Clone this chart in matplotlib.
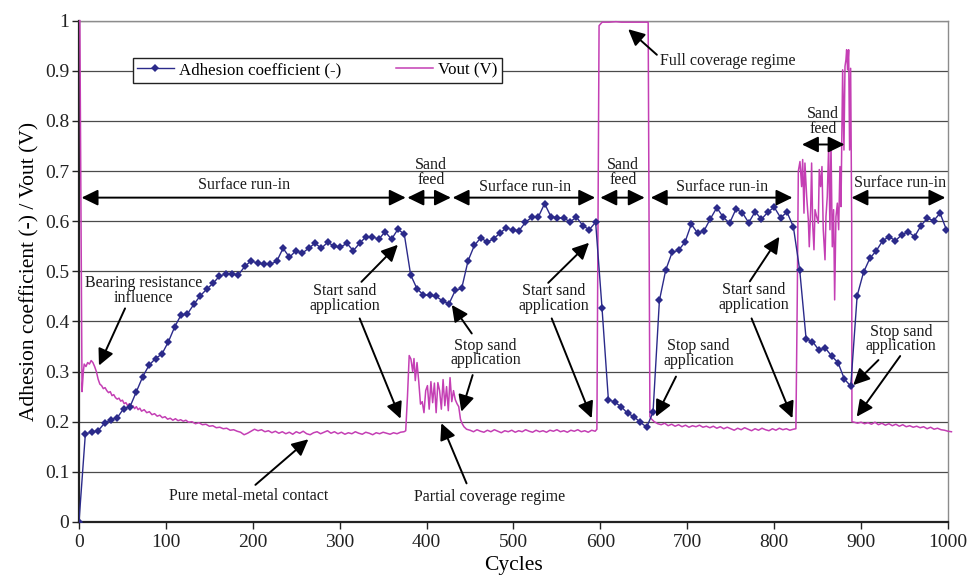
import numpy as np
import matplotlib.pyplot as plt
import matplotlib.ticker

plt.rcParams['font.family'] = ['Liberation Serif', 'DejaVu Serif']
plt.rcParams['axes.unicode_minus'] = False

# adhesion coefficient, one sample every ADH_STEP cycles starting at 0
ADH_STEP = 7.34
adhesion = [
    0.000, 0.176, 0.179, 0.182, 0.197, 0.204, 0.208, 0.226, 0.230, 0.260,
    0.290, 0.313, 0.326, 0.335, 0.359, 0.389, 0.413, 0.415, 0.434, 0.451,
    0.464, 0.476, 0.490, 0.495, 0.495, 0.493, 0.510, 0.521, 0.516, 0.515,
    0.514, 0.520, 0.546, 0.528, 0.541, 0.536, 0.546, 0.556, 0.546, 0.558,
    0.550, 0.548, 0.556, 0.541, 0.556, 0.569, 0.569, 0.564, 0.579, 0.564,
    0.584, 0.574, 0.493, 0.465, 0.453, 0.452, 0.450, 0.441, 0.435, 0.462,
    0.466, 0.521, 0.552, 0.567, 0.558, 0.565, 0.576, 0.587, 0.582, 0.581,
    0.598, 0.608, 0.608, 0.635, 0.609, 0.607, 0.606, 0.599, 0.608, 0.591,
    0.583, 0.598, 0.427, 0.244, 0.239, 0.230, 0.217, 0.210, 0.199, 0.189,
    0.219, 0.442, 0.503, 0.538, 0.542, 0.558, 0.594, 0.576, 0.581, 0.605,
    0.627, 0.608, 0.596, 0.624, 0.617, 0.597, 0.619, 0.604, 0.618, 0.628,
    0.607, 0.618, 0.589, 0.502, 0.365, 0.360, 0.343, 0.347, 0.331, 0.318,
    0.285, 0.271, 0.451, 0.498, 0.526, 0.541, 0.561, 0.569, 0.561, 0.573,
    0.579, 0.569, 0.591, 0.606, 0.601, 0.616, 0.583, 0.591,
]
adh_cycles = np.arange(len(adhesion)) * ADH_STEP

# sensor output voltage
vout_cycles = [
    1, 3.5, 5, 6, 8, 10, 12, 14, 16, 18, 20, 22, 24, 26, 28, 30, 32, 34, 36, 38,
    40, 42, 44, 46, 48, 50, 52, 54, 56, 58, 60, 62, 64, 66, 68, 70, 72, 75, 78, 81,
    84, 87, 90, 93, 96, 99, 102, 105, 108, 111, 114, 117, 120, 123, 126, 130, 134, 138, 142, 146,
    150, 154, 158, 162, 166, 170, 174, 178, 182, 186, 190, 194, 198, 202, 206, 210, 214, 218, 222, 226,
    230, 234, 238, 242, 246, 250, 254, 258, 262, 266, 270, 274, 278, 282, 286, 290, 294, 298, 302, 306,
    310, 314, 318, 322, 326, 330, 334, 338, 342, 346, 350, 354, 358, 362, 366, 370, 374, 376,
    378, 380, 382, 384, 385.5, 387, 389, 391, 393, 395, 397, 399, 401, 403, 405, 407, 409, 411, 413, 415,
    417, 419, 421, 423, 425, 427, 429, 431, 433, 435, 437, 439, 441, 443, 446,
    450, 454, 458, 462, 466, 470, 474, 478, 482, 486, 490, 494, 498, 502, 506, 510, 514, 518, 522, 526,
    530, 534, 538, 542, 546, 550, 554, 558, 562, 566, 570, 574, 578, 582, 586, 590, 594, 596,
    598.5, 602, 610, 618, 624, 632, 640, 648, 655, 657, 659,
    662, 666, 670, 674, 678, 682, 686, 690, 694, 698, 702, 706, 710, 714, 718, 722, 726, 730, 734, 738,
    742, 746, 750, 754, 758, 762, 766, 770, 774, 778, 782, 786, 790, 794, 798, 802, 806, 810, 814, 818,
    822, 825,
    826.6, 827.8, 829.7, 831.6, 832.8, 834.3, 835.4, 837.4, 839.3, 840.4, 842, 843.1, 844.3, 845.8, 847,
    848.9, 850.8, 851.9, 853.5, 855, 856.5, 858.5, 859.6, 861.1, 862.7, 864.2, 865.4, 866.9, 868.4, 869.6,
    871.1, 872.7, 874.2, 875.7, 876.9, 878, 878.8, 880.3, 881.5, 882.6, 883.4, 884.5, 885.7, 886.8, 888,
    889.2, 889.5,
    892, 896, 900, 904, 908, 912, 916, 920, 924, 928, 932, 936, 940, 944, 948, 952, 956, 960, 964, 968,
    972, 976, 980, 984, 988, 992, 996, 1000, 1004,
]
vout = [
    1.000, 0.260, 0.300, 0.315, 0.310, 0.318, 0.315, 0.322, 0.318, 0.310, 0.300, 0.285, 0.275, 0.272, 0.266, 0.268, 0.262, 0.258, 0.260, 0.252,
    0.254, 0.248, 0.245, 0.247, 0.241, 0.243, 0.236, 0.238, 0.232, 0.236, 0.228, 0.232, 0.226, 0.230, 0.224, 0.227, 0.221, 0.224, 0.218, 0.220,
    0.214, 0.216, 0.211, 0.213, 0.208, 0.210, 0.205, 0.207, 0.203, 0.206, 0.202, 0.204, 0.201, 0.203, 0.199, 0.200, 0.196, 0.198, 0.194, 0.195,
    0.191, 0.192, 0.188, 0.189, 0.186, 0.187, 0.183, 0.184, 0.181, 0.179, 0.174, 0.177, 0.181, 0.185, 0.182, 0.184, 0.180, 0.182, 0.178, 0.181,
    0.177, 0.180, 0.176, 0.179, 0.175, 0.180, 0.177, 0.181, 0.176, 0.174, 0.178, 0.180, 0.176, 0.179, 0.182, 0.177, 0.180, 0.176, 0.179, 0.175,
    0.178, 0.176, 0.180, 0.177, 0.175, 0.179, 0.177, 0.174, 0.178, 0.176, 0.179, 0.177, 0.175, 0.178, 0.176, 0.179, 0.180, 0.182,
    0.250, 0.332, 0.325, 0.300, 0.326, 0.282, 0.318, 0.280, 0.235, 0.240, 0.218, 0.262, 0.272, 0.225, 0.280, 0.238, 0.277, 0.218, 0.278, 0.262,
    0.225, 0.284, 0.232, 0.270, 0.222, 0.288, 0.240, 0.262, 0.244, 0.236, 0.230, 0.205, 0.196, 0.190, 0.185,
    0.183, 0.180, 0.184, 0.181, 0.179, 0.183, 0.180, 0.184, 0.181, 0.178, 0.182, 0.180, 0.183, 0.179, 0.182, 0.180, 0.184, 0.181, 0.179, 0.183,
    0.180, 0.182, 0.179, 0.183, 0.181, 0.184, 0.180, 0.182, 0.179, 0.183, 0.181, 0.184, 0.180, 0.182, 0.179, 0.183, 0.181, 0.185,
    0.990, 0.997, 0.997, 0.998, 0.997, 0.997, 0.997, 0.997, 0.997, 0.210, 0.205,
    0.200, 0.196, 0.194, 0.197, 0.192, 0.195, 0.191, 0.194, 0.190, 0.193, 0.189, 0.192, 0.190, 0.193, 0.189, 0.191, 0.188, 0.191, 0.187, 0.190,
    0.186, 0.189, 0.186, 0.183, 0.187, 0.184, 0.188, 0.185, 0.182, 0.186, 0.183, 0.187, 0.184, 0.182, 0.186, 0.183, 0.187, 0.184, 0.186, 0.183,
    0.185, 0.186,
    0.450, 0.700, 0.719, 0.669, 0.723, 0.616, 0.716, 0.649, 0.603, 0.549, 0.623, 0.716, 0.596, 0.543, 0.623,
    0.609, 0.596, 0.703, 0.669, 0.709, 0.583, 0.523, 0.609, 0.649, 0.749, 0.583, 0.756, 0.549, 0.623, 0.443,
    0.609, 0.636, 0.583, 0.709, 0.629, 0.782, 0.902, 0.742, 0.909, 0.922, 0.942, 0.902, 0.942, 0.742, 0.905,
    0.600, 0.200,
    0.199, 0.197, 0.199, 0.196, 0.198, 0.195, 0.199, 0.194, 0.197, 0.193, 0.196, 0.192, 0.195, 0.191, 0.194, 0.190, 0.192, 0.189, 0.191, 0.188,
    0.190, 0.186, 0.189, 0.185, 0.187, 0.184, 0.183, 0.181, 0.180,
]

NAVY = '#2b2a8a'
MAGENTA = '#c43fb4'
TXT = 11.5

fig = plt.figure(figsize=(9.68, 5.79), dpi=100)
ax = fig.add_axes([0.0816, 0.0985, 0.8977, 0.8658])

v_line, = ax.plot(vout_cycles, vout, color=MAGENTA, lw=1.1, zorder=3,
                  clip_on=False, label='Vout (V)')
a_line, = ax.plot(adh_cycles, adhesion, color=NAVY, lw=1.0, marker='D',
                  markersize=4.5, markeredgewidth=0, zorder=4,
                  label='Adhesion coefficient (-)')

ax.set_xlim(0, 1000)
ax.set_ylim(0, 1)
ax.xaxis.set_major_locator(matplotlib.ticker.MultipleLocator(100))
ax.yaxis.set_major_locator(matplotlib.ticker.MultipleLocator(0.1))
ax.yaxis.set_major_formatter(matplotlib.ticker.FuncFormatter(
    lambda v, p: '%g' % round(v, 1)))
ax.grid(axis='y', color='#4a4a4a', lw=0.9, zorder=1)
ax.set_axisbelow(True)
for side in ('top', 'right'):
    ax.spines[side].set_color('#8c8c8c')
    ax.spines[side].set_linewidth(1.0)
for side in ('left', 'bottom'):
    ax.spines[side].set_color('#222222')
    ax.spines[side].set_linewidth(1.6)
ax.tick_params(direction='out', length=5, width=1.0, labelsize=14,
               colors='#222222')
ax.tick_params(axis='y', pad=2)
ax.set_xlabel('Cycles', fontsize=15.5, labelpad=4)
ax.set_ylabel('Adhesion coefficient (-) / Vout (V)', fontsize=15.5, labelpad=4)

leg = ax.legend(handles=[a_line, v_line], ncol=2, loc='center',
                bbox_to_anchor=(0.274, 0.901), fontsize=12.2, frameon=True,
                fancybox=False, edgecolor='#222222', framealpha=1,
                handlelength=2.2, columnspacing=3.2, borderpad=0.25,
                handletextpad=0.3)
leg.get_frame().set_linewidth(1.0)

arrow_kw = dict(arrowstyle='-|>,head_length=0.45,head_width=0.22',
                color='black', lw=1.4, mutation_scale=22, shrinkA=0, shrinkB=0)
dbl_kw = dict(arrowstyle='<|-|>,head_length=0.45,head_width=0.22',
              color='black', lw=1.4, mutation_scale=22, shrinkA=0, shrinkB=0)


def note(x, y, s):
    ax.text(x, y, s, fontsize=TXT, ha='center', va='center',
            linespacing=0.9, color='#1a1a1a', zorder=6)


def arrow(x0, y0, x1, y1):
    ax.annotate('', xy=(x1, y1), xytext=(x0, y0), arrowprops=arrow_kw, zorder=6)


def span(x0, x1, y):
    ax.annotate('', xy=(x1, y), xytext=(x0, y), arrowprops=dbl_kw, zorder=6)


# phase spans along the top
RUN_Y = 0.647
span(3, 376, RUN_Y)
note(190, 0.672, 'Surface run-in')
span(378, 428, RUN_Y)
note(405, 0.697, 'Sand\nfeed')
span(430, 594, RUN_Y)
note(513, 0.668, 'Surface run-in')
span(600, 651, RUN_Y)
note(626, 0.697, 'Sand\nfeed')
span(658, 821, RUN_Y)
note(740, 0.668, 'Surface run-in')
span(832, 881, 0.753)
note(856, 0.799, 'Sand\nfeed')
span(889, 997, RUN_Y)
note(945, 0.677, 'Surface run-in')

# event annotations
note(74, 0.461, 'Bearing resistance\ninfluence')
arrow(53, 0.426, 23, 0.312)

note(195, 0.052, 'Pure metal-metal contact')
arrow(203, 0.074, 264, 0.165)

note(306, 0.446, 'Start sand\napplication')
arrow(325, 0.479, 367, 0.553)
arrow(323, 0.406, 370, 0.206)

note(468, 0.337, 'Stop sand\napplication')
arrow(452, 0.376, 429, 0.433)
arrow(453, 0.293, 440, 0.220)

note(472, 0.050, 'Partial coverage regime')
arrow(446, 0.077, 417, 0.197)

note(546, 0.446, 'Start sand\napplication')
arrow(540, 0.477, 587, 0.557)
arrow(544, 0.406, 590, 0.207)

note(747, 0.920, 'Full coverage regime')
arrow(665, 0.932, 632, 0.983)

note(713, 0.336, 'Stop sand\napplication')
arrow(687, 0.290, 664, 0.210)

note(777, 0.447, 'Start sand\napplication')
arrow(772, 0.480, 806, 0.569)
arrow(774, 0.406, 821, 0.207)

note(946, 0.365, 'Stop sand\napplication')
arrow(920, 0.323, 891, 0.273)
arrow(945, 0.331, 895, 0.210)

fig.savefig('out.png', dpi=100)
